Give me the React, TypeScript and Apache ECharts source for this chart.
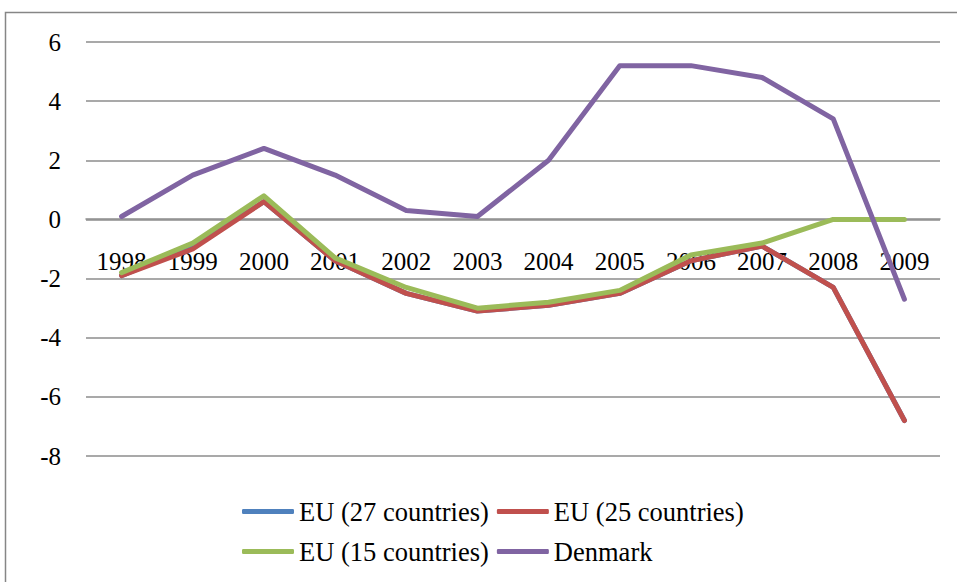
import React, { useEffect, useRef } from "react";
import * as echarts from "echarts";

const years = ["1998", "1999", "2000", "2001", "2002", "2003", "2004", "2005", "2006", "2007", "2008", "2009"];
const eu27 = [-1.9, -0.9, 0.6, -1.4, -2.5, -3.1, -2.9, -2.5, -1.4, -0.9, -2.3, -6.8];
const eu25 = [-1.9, -1.0, 0.6, -1.4, -2.5, -3.1, -2.9, -2.5, -1.4, -0.9, -2.3, -6.8];
const eu15 = [-1.8, -0.8, 0.8, -1.3, -2.3, -3.0, -2.8, -2.4, -1.2, -0.8, 0.0, 0.0];
const denmark = [0.1, 1.5, 2.4, 1.5, 0.3, 0.1, 2.0, 5.2, 5.2, 4.8, 3.4, -2.7];

const seriesNames = ["EU (27 countries)", "EU (25 countries)", "EU (15 countries)", "Denmark"];
const seriesColors = ["#4F81BD", "#C0504D", "#9BBB59", "#8064A2"];
const seriesData = [eu27, eu25, eu15, denmark];

const FONT = "'Liberation Serif', 'Times New Roman', serif";
const GRID_COLOR = "#8c8c8c";

export default function App() {
  const ref = useRef<HTMLDivElement>(null);
  useEffect(() => {
    if (!ref.current) return;
    const chart = echarts.init(ref.current, null, { renderer: "svg" });
    const legendCommon = {
      left: 242,
      orient: "horizontal" as const,
      icon: "roundRect",
      itemWidth: 52,
      itemHeight: 5,
      itemGap: 8,
      textStyle: { fontFamily: FONT, fontSize: 26.5, color: "#000" },
      padding: 0,
    };
    chart.setOption({
      animation: false,
      color: seriesColors,
      textStyle: { fontFamily: FONT },
      grid: { left: 86, right: 17, top: 42, bottom: 126, containLabel: false },
      graphic: [
        {
          type: "rect",
          shape: { x: 5.5, y: 12.5, width: 1200, height: 1200 },
          style: { fill: "none", stroke: "#868686", lineWidth: 1.5 },
          silent: true,
        },
      ],
      legend: [
        { ...legendCommon, top: 498, data: [seriesNames[0], seriesNames[1]] },
        { ...legendCommon, top: 538, data: [seriesNames[2], seriesNames[3]] },
      ],
      xAxis: {
        type: "category",
        data: years,
        boundaryGap: true,
        position: "bottom",
        offset: -237,
        axisLine: { show: true, onZero: false, lineStyle: { color: GRID_COLOR, width: 1.5 } },
        axisTick: { show: false },
        axisLabel: { fontFamily: FONT, fontSize: 25, color: "#000", margin: 30, interval: 0 },
        splitLine: { show: false },
      },
      yAxis: {
        type: "value",
        min: -8,
        max: 6,
        interval: 2,
        axisLine: { show: false },
        axisTick: { show: false },
        axisLabel: { fontFamily: FONT, fontSize: 25, color: "#000", margin: 25 },
        splitLine: { show: true, lineStyle: { color: GRID_COLOR, width: 1.5 } },
      },
      series: seriesNames.map((name, i) => ({
        name,
        type: "line",
        data: seriesData[i],
        symbol: "none",
        showSymbol: false,
        lineStyle: { width: 5, color: seriesColors[i], cap: "round", join: "round" },
        itemStyle: { color: seriesColors[i] },
        z: 2 + i,
      })),
    });
    return () => chart.dispose();
  }, []);
  return (
    <div
      ref={ref}
      style={{ position: "fixed", left: 0, top: 0, width: 957, height: 582, background: "#fff" }}
    />
  );
}
